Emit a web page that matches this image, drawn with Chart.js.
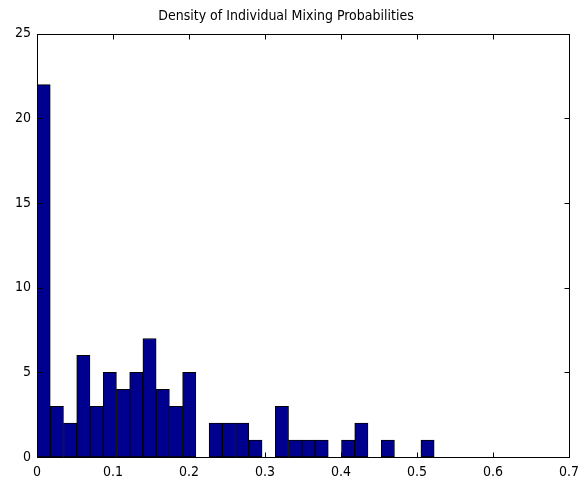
<!DOCTYPE html>
<html>
<head>
<meta charset="utf-8">
<script src="https://cdn.jsdelivr.net/npm/chart.js@4/dist/chart.umd.min.js"></script>
<style>
  html, body { margin: 0; padding: 0; background: #fff; }
  canvas { display: block; }
</style>
</head>
<body>
<canvas id="c" width="586" height="485"></canvas>
<script>
// histogram: 30 equal bins from 0 up to the largest value
const binMin = 0;
const binMax = 0.5226;
const counts = [22, 3, 2, 6, 3, 5, 4, 5, 7, 4, 3, 5, 0, 2, 2, 2, 1, 0, 3, 1, 1, 1, 0, 1, 2, 0, 1, 0, 0, 1];
const xTicks = [0, 0.1, 0.2, 0.3, 0.4, 0.5, 0.6, 0.7];
const yTicks = [0, 5, 10, 15, 20, 25];
const titleText = 'Density of Individual Mixing Probabilities';

const binW = (binMax - binMin) / counts.length;
const points = counts.map((n, i) => ({ x: binMin + (i + 0.5) * binW, y: n }));

const FONT = "'Liberation Sans Narrow', 'DejaVu Sans Condensed', 'Liberation Sans', Arial, sans-serif";

// matlab style box with inward ticks
const boxPlugin = {
  id: 'box',
  afterDatasetsDraw(chart) {
    const { ctx, chartArea: a, scales } = chart;
    const L = Math.round(a.left) + 0.5, R = Math.round(a.right) + 0.5;
    const T = Math.round(a.top) + 0.5, B = Math.round(a.bottom) + 0.5;
    ctx.save();
    ctx.strokeStyle = '#000';
    ctx.lineWidth = 1;
    ctx.strokeRect(L, T, R - L, B - T);
    ctx.beginPath();
    const tl = 5;
    xTicks.forEach(v => {
      const px = Math.round(scales.x.getPixelForValue(v)) + 0.5;
      ctx.moveTo(px, B); ctx.lineTo(px, B - tl);
      ctx.moveTo(px, T); ctx.lineTo(px, T + tl);
    });
    yTicks.forEach(v => {
      const py = Math.round(scales.y.getPixelForValue(v)) + 0.5;
      ctx.moveTo(L, py); ctx.lineTo(L + tl, py);
      ctx.moveTo(R, py); ctx.lineTo(R - tl, py);
    });
    ctx.stroke();
    ctx.restore();
  }
};

new Chart(document.getElementById('c'), {
  type: 'bar',
  data: {
    datasets: [{
      data: points,
      backgroundColor: '#00008F',
      borderColor: '#000',
      borderWidth: 1,
      borderSkipped: false,
      barPercentage: 1,
      categoryPercentage: 1
    }]
  },
  options: {
    responsive: false,
    animation: false,
    devicePixelRatio: 1,
    layout: { padding: { left: 0, right: 14, top: 0, bottom: 0 } },
    plugins: {
      legend: { display: false },
      tooltip: { enabled: false },
      title: {
        display: true,
        text: titleText,
        color: '#000',
        font: { family: FONT, size: 14, weight: 'normal' },
        padding: { top: 8, bottom: 9 }
      }
    },
    scales: {
      x: {
        type: 'linear',
        min: 0,
        max: 0.7,
        offset: false,
        afterBuildTicks: s => { s.ticks = xTicks.map(v => ({ value: v })); },
        ticks: {
          color: '#000',
          font: { family: FONT, size: 14 },
          padding: 7,
          maxRotation: 0,
          callback: v => String(+v.toFixed(1))
        },
        grid: { display: false, drawTicks: false, offset: false },
        border: { display: false },
        afterFit: s => { s.height = 28; }
      },
      y: {
        min: 0,
        max: 25,
        afterBuildTicks: s => { s.ticks = yTicks.map(v => ({ value: v })); },
        ticks: {
          color: '#000',
          font: { family: FONT, size: 14 },
          padding: 6
        },
        grid: { display: false, drawTicks: false },
        border: { display: false },
        afterFit: s => { s.width = 37; }
      }
    }
  },
  plugins: [boxPlugin]
});
</script>
</body>
</html>
